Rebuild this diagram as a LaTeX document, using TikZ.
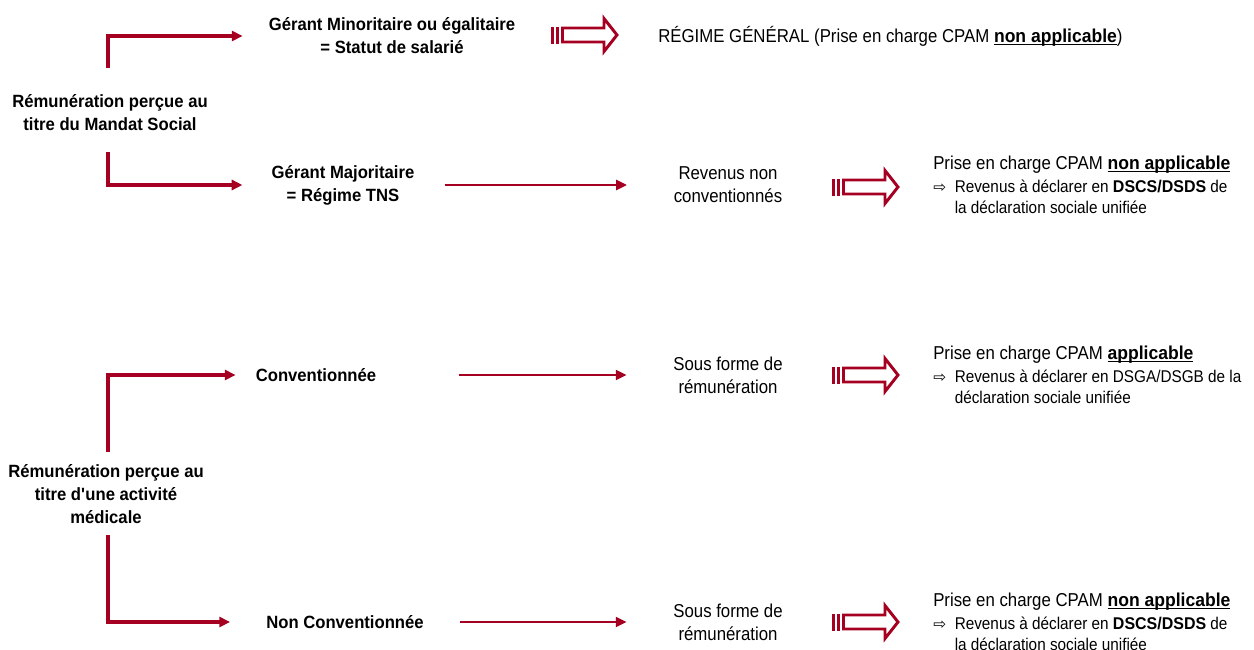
\documentclass[tikz,border=0pt]{standalone}
\usepackage{fontspec}
\setmainfont{Liberation Sans}[FakeStretch=0.9, BoldFeatures={FakeStretch=0.94}]
\newfontfamily\symfont{DejaVu Sans}
\usetikzlibrary{arrows.meta}
\definecolor{brd}{RGB}{165,0,33}
\newcommand{\ulbf}[1]{\setbox0\hbox{\bfseries #1}\rlap{\rule[-2.1pt]{\wd0}{0.9pt}}\box0}
\newcommand{\dblarrow}{{\symfont\fontsize{11.5}{11}\selectfont ⇨}\hspace{6.5pt}}
\newcommand{\bigline}[1]{{\fontsize{14}{16}\selectfont #1}}
\tikzset{
  lbl/.style={font=\fontsize{13.3}{17.25}\selectfont\bfseries, align=center, inner sep=0pt},
  txt/.style={font=\fontsize{14}{17.25}\selectfont, align=center, inner sep=0pt},
  blk/.style={font=\fontsize{12.75}{16}\selectfont, align=left, inner sep=0pt, anchor=west},
  brk/.style={draw=brd, line width=2.3pt, -{Triangle[length=8pt,width=7.5pt]}},
  arr/.style={draw=brd, line width=1.6pt, -{Triangle[length=8pt,width=7.5pt]}},
  bigarrow/.pic={
    \fill[brd] (0,-8.5) rectangle (3,8.5);
    \fill[brd] (4.5,-8.5) rectangle (8,8.5);
    \draw[brd, line width=2.2pt, line join=miter, fill=white]
      (11.5,-7) -- (53,-7) -- (53,-16.5) -- (66,0) -- (53,16.5) -- (53,7) -- (11.5,7) -- cycle;
  }
}
\begin{document}
\begin{tikzpicture}[x=0.75pt,y=-0.75pt]
\useasboundingbox (0,0) rectangle (1254,650);
% ---------- group 1
\node[lbl] (lab1) at (110,113) {Rémunération perçue au\\titre du Mandat Social};
\node[lbl] (gm1) at (392,36) {Gérant Minoritaire ou égalitaire\\= Statut de salarié};
\node[lbl] (gm2) at (343,185) {Gérant Majoritaire\\= Régime TNS};
\node[txt, anchor=west] (reg) at (658,36) {RÉGIME GÉNÉRAL (Prise en charge CPAM \ulbf{non applicable})};
\node[txt] (rev1) at (728,185) {Revenus non\\conventionnés};
\node[blk] (c1) at (933,185) {\bigline{Prise en charge CPAM \ulbf{non applicable}}\\[1pt]
  \dblarrow Revenus à déclarer en \textbf{DSCS/DSDS} de\\
  \hphantom{\dblarrow}la déclaration sociale unifiée};
\coordinate (b1s) at (108,68);
\coordinate (b2s) at (108,152);
\draw[brk] (b1s) |- ([xshift=-19.5pt]gm1.west);
\draw[brk] (b2s) |- ([xshift=-21.75pt]gm2.west);
\draw[arr, shorten <=22.5pt, shorten >=35pt] (gm2.east) -- (rev1.west);
\pic at (551,35) {bigarrow};
\pic at (832,187) {bigarrow};
% ---------- group 2
\node[lbl] (lab2) at (106,494) {Rémunération perçue au\\titre d\textquotesingle une activité\\médicale};
\node[lbl] (cv) at (316,375) {Conventionnée};
\node[lbl] (ncv) at (345,622) {Non Conventionnée};
\node[txt] (sf1) at (728,375) {Sous forme de\\rémunération};
\node[txt] (sf2) at (728,622) {Sous forme de\\rémunération};
\node[blk] (c2) at (933,375) {\bigline{Prise en charge CPAM \ulbf{applicable}}\\[1pt]
  \dblarrow Revenus à déclarer en DSGA/DSGB de la\\
  \hphantom{\dblarrow}déclaration sociale unifiée};
\node[blk] (c3) at (933,622) {\bigline{Prise en charge CPAM \ulbf{non applicable}}\\[1pt]
  \dblarrow Revenus à déclarer en \textbf{DSCS/DSDS} de\\
  \hphantom{\dblarrow}la déclaration sociale unifiée};
\coordinate (b3s) at (108,452);
\coordinate (b4s) at (108,535);
\draw[brk] (b3s) |- ([xshift=-15pt]cv.west);
\draw[brk] (b4s) |- ([xshift=-27pt]ncv.west);
\draw[arr, shorten <=62pt, shorten >=35pt] (cv.east) -- (sf1.west);
\draw[arr, shorten <=27pt, shorten >=35pt] (ncv.east) -- (sf2.west);
\pic at (832,375) {bigarrow};
\pic at (832,622) {bigarrow};
\end{tikzpicture}
\end{document}
